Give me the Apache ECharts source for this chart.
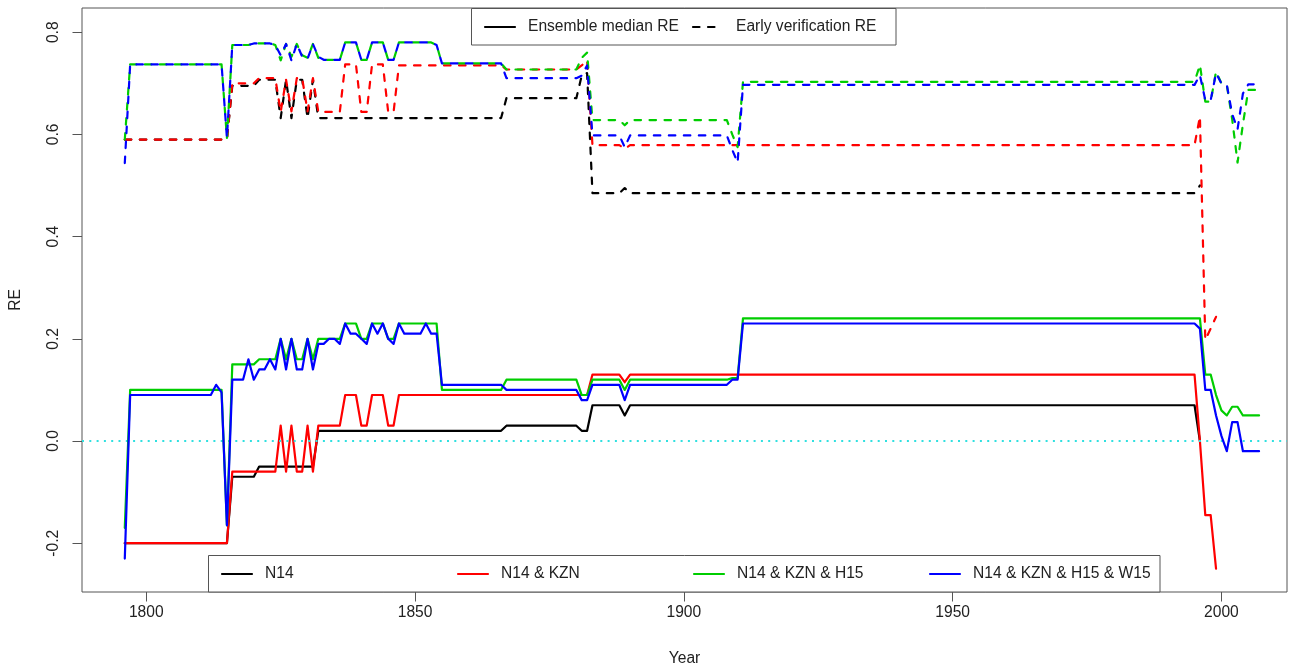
<!DOCTYPE html>
<html>
<head>
<meta charset="utf-8">
<title>RE</title>
<script src="https://cdn.jsdelivr.net/npm/echarts@6/dist/echarts.min.js"></script>
<style>
  html, body { margin: 0; padding: 0; background: #ffffff; }
  #chart { width: 1291px; height: 668px; }
</style>
</head>
<body>
<div id="chart"></div>
<script>
// Ensemble median RE per reconstruction, [year, RE] at each year where the value changes
const medianN14 = [[1796,-0.2],[1815,-0.2],[1816,-0.07],[1820,-0.07],[1821,-0.05],[1831,-0.05],[1832,0.02],[1866,0.02],[1867,0.03],[1880,0.03],[1881,0.02],[1882,0.02],[1883,0.07],[1888,0.07],[1889,0.05],[1890,0.07],[1995,0.07],[1996,0.0]];
const medianKZN = [[1796,-0.2],[1815,-0.2],[1816,-0.06],[1824,-0.06],[1825,0.03],[1826,-0.06],[1827,0.03],[1828,-0.06],[1829,-0.06],[1830,0.03],[1831,-0.06],[1832,0.03],[1836,0.03],[1837,0.09],[1839,0.09],[1840,0.03],[1841,0.03],[1842,0.09],[1844,0.09],[1845,0.03],[1846,0.03],[1847,0.09],[1882,0.09],[1883,0.13],[1888,0.13],[1889,0.115],[1890,0.13],[1995,0.13],[1996,0.0],[1997,-0.145],[1998,-0.145],[1999,-0.25]];
const medianH15 = [[1796,-0.17],[1797,0.10],[1814,0.10],[1815,-0.165],[1816,0.15],[1820,0.15],[1821,0.16],[1824,0.16],[1825,0.20],[1826,0.16],[1827,0.20],[1828,0.16],[1829,0.16],[1830,0.20],[1831,0.16],[1832,0.20],[1836,0.20],[1837,0.23],[1839,0.23],[1840,0.20],[1841,0.20],[1842,0.23],[1844,0.23],[1845,0.20],[1846,0.20],[1847,0.23],[1854,0.23],[1855,0.10],[1866,0.10],[1867,0.12],[1880,0.12],[1881,0.09],[1882,0.09],[1883,0.12],[1888,0.12],[1889,0.10],[1890,0.12],[1908,0.12],[1909,0.123],[1910,0.123],[1911,0.24],[1996,0.24],[1997,0.13],[1998,0.13],[1999,0.09],[2000,0.06],[2001,0.05],[2002,0.067],[2003,0.067],[2004,0.05],[2007,0.05]];
const medianW15 = [[1796,-0.23],[1797,0.09],[1812,0.09],[1813,0.11],[1814,0.095],[1815,-0.165],[1816,0.12],[1818,0.12],[1819,0.16],[1820,0.12],[1821,0.14],[1822,0.14],[1823,0.16],[1824,0.14],[1825,0.20],[1826,0.14],[1827,0.20],[1828,0.14],[1829,0.14],[1830,0.20],[1831,0.14],[1832,0.19],[1833,0.19],[1834,0.20],[1835,0.20],[1836,0.19],[1837,0.23],[1838,0.21],[1839,0.21],[1840,0.20],[1841,0.19],[1842,0.23],[1843,0.21],[1844,0.23],[1845,0.20],[1846,0.19],[1847,0.23],[1848,0.21],[1851,0.21],[1852,0.23],[1853,0.21],[1854,0.21],[1855,0.11],[1866,0.11],[1867,0.10],[1880,0.10],[1881,0.08],[1882,0.08],[1883,0.11],[1888,0.11],[1889,0.08],[1890,0.11],[1908,0.11],[1909,0.12],[1910,0.12],[1911,0.23],[1995,0.23],[1996,0.22],[1997,0.10],[1998,0.10],[1999,0.05],[2000,0.01],[2001,-0.02],[2002,0.037],[2003,0.037],[2004,-0.02],[2007,-0.02]];

// Early verification RE per reconstruction
const earlyN14 = [[1796,0.59],[1815,0.59],[1816,0.695],[1820,0.695],[1821,0.707],[1824,0.707],[1825,0.632],[1826,0.707],[1827,0.632],[1828,0.707],[1829,0.707],[1830,0.632],[1831,0.707],[1832,0.632],[1866,0.632],[1867,0.671],[1880,0.671],[1881,0.715],[1882,0.72],[1883,0.485],[1888,0.485],[1889,0.495],[1890,0.485],[1995,0.485],[1996,0.50]];
const earlyKZN = [[1796,0.59],[1815,0.59],[1816,0.70],[1820,0.70],[1821,0.71],[1824,0.71],[1825,0.644],[1826,0.707],[1827,0.645],[1828,0.71],[1829,0.71],[1830,0.645],[1831,0.71],[1832,0.644],[1836,0.644],[1837,0.737],[1839,0.737],[1840,0.644],[1841,0.644],[1842,0.737],[1844,0.737],[1845,0.644],[1846,0.644],[1847,0.735],[1866,0.735],[1867,0.727],[1880,0.727],[1881,0.735],[1882,0.745],[1883,0.579],[1888,0.579],[1889,0.572],[1890,0.579],[1995,0.579],[1996,0.635],[1997,0.198],[1998,0.22],[1999,0.243]];
const earlyH15 = [[1796,0.59],[1797,0.737],[1814,0.737],[1815,0.593],[1816,0.775],[1819,0.775],[1820,0.778],[1823,0.778],[1824,0.775],[1825,0.745],[1826,0.777],[1827,0.752],[1828,0.777],[1829,0.755],[1830,0.75],[1831,0.777],[1832,0.75],[1833,0.746],[1836,0.746],[1837,0.78],[1839,0.78],[1840,0.746],[1841,0.746],[1842,0.78],[1844,0.78],[1845,0.746],[1846,0.746],[1847,0.78],[1853,0.78],[1854,0.775],[1855,0.739],[1866,0.739],[1867,0.727],[1880,0.727],[1881,0.75],[1882,0.76],[1883,0.628],[1888,0.628],[1889,0.618],[1890,0.628],[1908,0.628],[1909,0.60],[1910,0.575],[1911,0.703],[1995,0.703],[1996,0.736],[1997,0.664],[1998,0.664],[1999,0.723],[2000,0.70],[2001,0.697],[2002,0.63],[2003,0.545],[2004,0.62],[2005,0.687],[2007,0.687]];
const earlyW15 = [[1796,0.544],[1797,0.737],[1814,0.737],[1815,0.593],[1816,0.775],[1819,0.775],[1820,0.778],[1823,0.778],[1824,0.775],[1825,0.755],[1826,0.777],[1827,0.745],[1828,0.777],[1829,0.752],[1830,0.748],[1831,0.777],[1832,0.752],[1833,0.746],[1836,0.746],[1837,0.78],[1839,0.78],[1840,0.746],[1841,0.746],[1842,0.78],[1844,0.78],[1845,0.746],[1846,0.746],[1847,0.78],[1853,0.78],[1854,0.775],[1855,0.739],[1866,0.739],[1867,0.71],[1880,0.71],[1881,0.715],[1882,0.735],[1883,0.598],[1888,0.598],[1889,0.575],[1890,0.598],[1908,0.598],[1909,0.57],[1910,0.545],[1911,0.697],[1995,0.697],[1996,0.716],[1997,0.667],[1998,0.667],[1999,0.72],[2000,0.70],[2001,0.697],[2002,0.64],[2003,0.61],[2004,0.68],[2005,0.698],[2007,0.698]];

// Reconstruction names and axis ticks
const reconNames = ['N14', 'N14 & KZN', 'N14 & KZN & H15', 'N14 & KZN & H15 & W15'];
const typeNames = ['Ensemble median RE', 'Early verification RE'];
const xTicks = [1800, 1850, 1900, 1950, 2000];
const yTicks = [-0.2, 0.0, 0.2, 0.4, 0.6, 0.8];

const COLORS = ['#000000', '#ff0000', '#00cd00', '#0000ff'];
const DASH = [6.5, 8.5];
const FONT = "'Liberation Sans', Arial, Helvetica, sans-serif";
const FS = 15.6;
const TEXT = '#222222';
const FRAME = '#555555';

const medians = [medianN14, medianKZN, medianH15, medianW15];
const earlies = [earlyN14, earlyKZN, earlyH15, earlyW15];

function lineSeries(name, data, color, dashed, z) {
  return {
    type: 'line',
    name: name,
    data: data,
    symbol: 'none',
    showSymbol: false,
    silent: true,
    animation: false,
    z: z,
    emphasis: { disabled: true },
    lineStyle: { color: color, width: 2.2, type: dashed ? DASH : 'solid', cap: 'round', join: 'round' }
  };
}

const series = [];
medians.forEach((d, i) => series.push(lineSeries(reconNames[i] + ' median', d, COLORS[i], false, 3 + i)));
earlies.forEach((d, i) => series.push(lineSeries(reconNames[i] + ' early', d, COLORS[i], true, 7 + i)));

// zero reference line across the plot
series[0].markLine = {
  silent: true,
  symbol: ['none', 'none'],
  label: { show: false },
  animation: false,
  lineStyle: { color: '#30e0e0', width: 2, type: [2, 5.3], cap: 'butt' },
  data: [{ yAxis: 0 }]
};

// legend boxes
const graphics = [];
function legendBox(x, y, w, h) {
  graphics.push({ type: 'rect', z: 100, silent: true,
    shape: { x: x, y: y, width: w, height: h },
    style: { fill: '#ffffff', stroke: FRAME, lineWidth: 1 } });
}
function legendItem(x, y, text, color, dashed) {
  graphics.push({ type: 'line', z: 101, silent: true,
    shape: { x1: x, y1: y, x2: x + 30, y2: y },
    style: { stroke: color, lineWidth: 2.2, lineDash: dashed ? DASH : null, lineCap: 'round' } });
  graphics.push({ type: 'text', z: 101, silent: true,
    style: { x: x + 43, y: y, text: text, fill: TEXT, fontSize: FS, fontFamily: FONT,
             align: 'left', verticalAlign: 'middle' } });
}

legendBox(471.5, 8.5, 424.5, 36.5);
legendItem(485, 27, typeNames[0], '#000000', false);
legendItem(693, 27, typeNames[1], '#000000', true);

legendBox(208.5, 555.5, 951.5, 36.5);
reconNames.forEach((n, i) => legendItem(222 + 236 * i, 574, n, COLORS[i], false));

const chart = echarts.init(document.getElementById('chart'), null, { renderer: 'canvas' });
chart.setOption({
  animation: false,
  backgroundColor: '#ffffff',
  textStyle: { fontFamily: FONT },
  grid: { left: 82, top: 8, width: 1205, height: 584, containLabel: false, outerBoundsMode: 'none',
          show: true, borderColor: FRAME, borderWidth: 1, backgroundColor: 'transparent' },
  xAxis: {
    type: 'value',
    min: 1788.04,
    max: 2012.2,
    position: 'bottom',
    name: 'Year',
    nameLocation: 'middle',
    nameGap: 59,
    nameTextStyle: { fontSize: FS, color: TEXT, fontFamily: FONT },
    axisLine: { show: false, onZero: false },
    splitLine: { show: false },
    axisTick: { show: true, length: 9.5, lineStyle: { color: FRAME, width: 1 }, customValues: xTicks },
    axisLabel: { show: true, margin: 13, fontSize: FS, color: TEXT, fontFamily: FONT, customValues: xTicks,
                 formatter: v => String(v) }
  },
  yAxis: {
    type: 'value',
    min: -0.2955,
    max: 0.8474,
    position: 'left',
    name: 'RE',
    nameLocation: 'middle',
    nameGap: 58,
    nameRotate: 90,
    nameTextStyle: { fontSize: FS, color: TEXT, fontFamily: FONT },
    axisLine: { show: false, onZero: false },
    splitLine: { show: false },
    axisTick: { show: true, length: 9.5, lineStyle: { color: FRAME, width: 1 }, customValues: yTicks },
    axisLabel: { show: true, margin: 20, rotate: 90, fontSize: FS, color: TEXT, fontFamily: FONT, customValues: yTicks,
                 formatter: v => v.toFixed(1) }
  },
  graphic: graphics,
  series: series
});
</script>
</body>
</html>
